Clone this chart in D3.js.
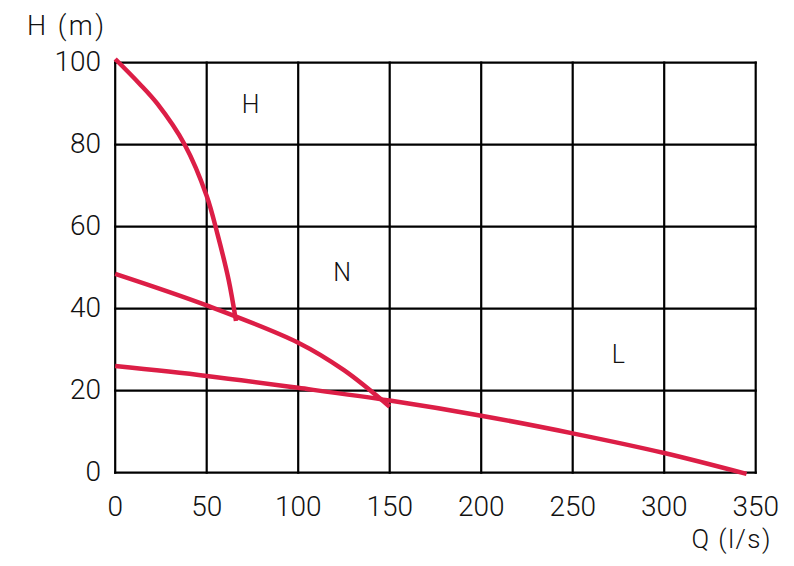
<!DOCTYPE html>
<html>
<head>
<meta charset="utf-8">
<script src="https://cdn.jsdelivr.net/npm/d3@7"></script>
<style>
  body { margin: 0; background: #fff; }
  text { font-family: Roboto, "Liberation Sans", sans-serif; font-weight: 300; fill: #111; }
</style>
</head>
<body>
<svg width="794" height="566"></svg>
<script>
const width = 794, height = 566;

// axis ticks
const qTicks = [0, 50, 100, 150, 200, 250, 300, 350];
const hTicks = [0, 20, 40, 60, 80, 100];

// pump curves (Q in l/s, H in m)
const curveH_Q = [0, 13, 23, 38, 50, 56, 62, 66];
const curveH_H = [100.9, 95, 90, 80, 67.5, 58, 47, 37];
const curveN_Q = [0, 50, 100, 125, 150];
const curveN_H = [48.5, 40.8, 31.7, 25, 16.1];
const curveL_Q = [0, 50, 100, 150, 200, 250, 300, 345];
const curveL_H = [26, 23.6, 20.7, 17.6, 13.9, 9.6, 4.8, -0.3];

// curve labels
const labelNames = ["H", "N", "L"];
const labelQ = [74, 124, 275];
const labelH = [90, 49, 29];

const svg = d3.select('svg');

const x = d3.scaleLinear().domain([0, 350]).range([115.2, 755.7]);
const y = d3.scaleLinear().domain([0, 100]).range([472.7, 62.7]);

// grid
const grid = svg.append("g")
    .attr("stroke", "#000")
    .attr("stroke-width", 2.2);

grid.selectAll("line.v")
    .data(qTicks)
    .enter().append("line")
    .attr("class", "v")
    .attr("x1", d => x(d)).attr("x2", d => x(d))
    .attr("y1", y(0) + 1.1).attr("y2", y(100) - 1.1);

grid.selectAll("line.h")
    .data(hTicks)
    .enter().append("line")
    .attr("class", "h")
    .attr("x1", x(0) - 1.1).attr("x2", x(350) + 1.1)
    .attr("y1", d => y(d)).attr("y2", d => y(d));

// tick labels
svg.append("g").selectAll("text")
    .data(hTicks)
    .enter().append("text")
    .attr("x", 101)
    .attr("y", d => y(d) + 8)
    .attr("text-anchor", "end")
    .attr("font-size", "28px")
    .text(d => d);

svg.append("g").selectAll("text")
    .data(qTicks)
    .enter().append("text")
    .attr("x", d => x(d))
    .attr("y", 516)
    .attr("text-anchor", "middle")
    .attr("font-size", "28px")
    .text(d => d);

// axis titles
svg.append("text")
    .attr("x", 27)
    .attr("y", 35)
    .attr("font-size", "27px")
    .attr("letter-spacing", "2.5px")
    .text("H (m)");

svg.append("text")
    .attr("x", 772)
    .attr("y", 548)
    .attr("text-anchor", "end")
    .attr("font-size", "26px")
    .attr("letter-spacing", "1.5px")
    .text("Q (l/s)");

// curves
const line = d3.line()
    .x(d => x(d[0]))
    .y(d => y(d[1]))
    .curve(d3.curveCatmullRom.alpha(0.5));

const series = [
    d3.zip(curveH_Q, curveH_H),
    d3.zip(curveN_Q, curveN_H),
    d3.zip(curveL_Q, curveL_H)
];

svg.append("g").selectAll("path")
    .data(series)
    .enter().append("path")
    .attr("d", line)
    .attr("fill", "none")
    .attr("stroke", "#dc1e46")
    .attr("stroke-width", 4.5);

// curve names
svg.append("g").selectAll("text")
    .data(labelNames)
    .enter().append("text")
    .attr("x", (d, i) => x(labelQ[i]))
    .attr("y", (d, i) => y(labelH[i]) + 9)
    .attr("text-anchor", "middle")
    .attr("font-size", "25px")
    .text(d => d);
</script>
</body>
</html>
